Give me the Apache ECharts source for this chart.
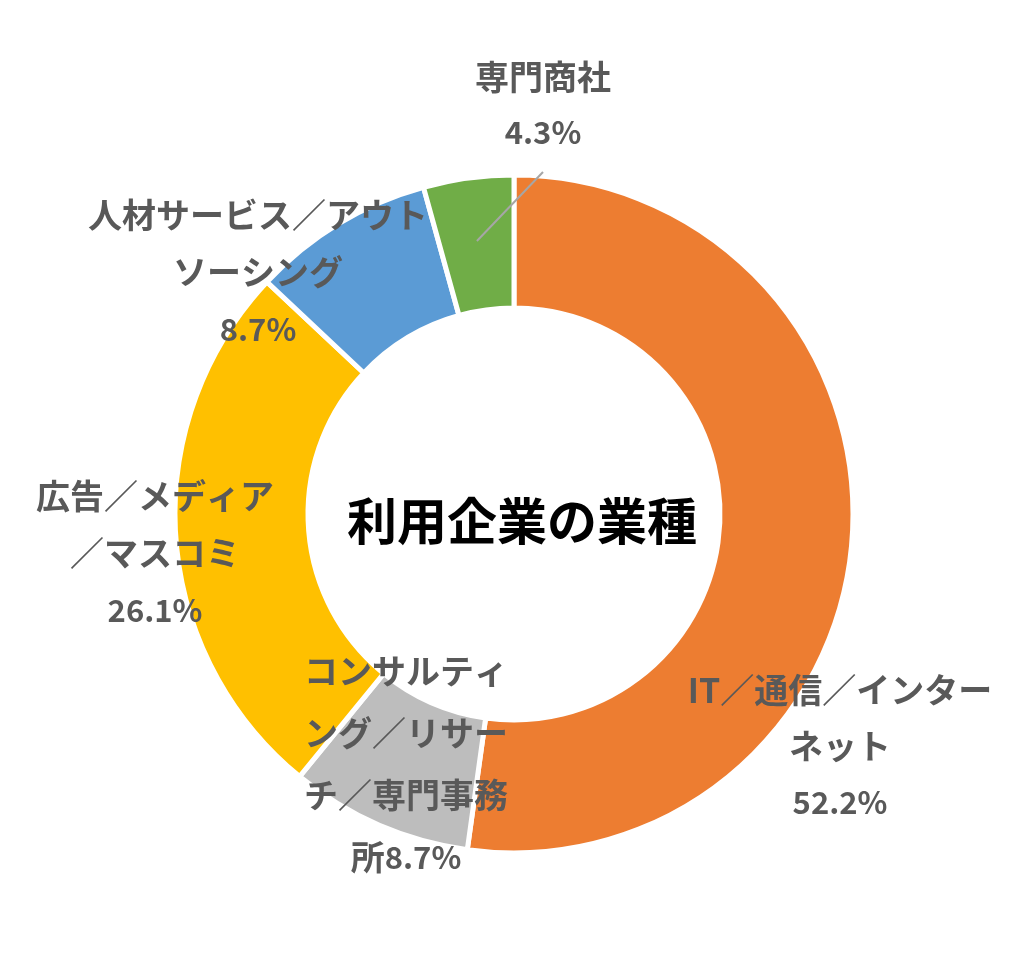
<!DOCTYPE html>
<html>
<head>
<meta charset="utf-8">
<script src="https://cdn.jsdelivr.net/npm/echarts@6/dist/echarts.min.js"></script>
<style>html,body{margin:0;padding:0;background:#fff;}#c{width:1024px;height:953px;}</style>
</head>
<body>
<div id="c"></div>
<script>
const categories = ['IT／通信／インターネット', 'コンサルティング／リサーチ／専門事務所', '広告／メディア／マスコミ', '人材サービス／アウトソーシング', '専門商社'];
const values = [52.2, 8.7, 26.1, 8.7, 4.3];
const wrappedNames = ['IT／通信／インター\nネット', 'コンサルティ\nング／リサー\nチ／専門事務\n所', '広告／メディア\n／マスコミ', '人材サービス／アウト\nソーシング', '専門商社'];
const percentOnNewLine = [true, false, true, true, true];
const centerTitle = '利用企業の業種';

const colors = ['#ED7D31', '#BDBDBD', '#FFC000', '#5B9BD5', '#70AD47'];
const labelPos = [
  {x: 840, y: 746, lh: 56},
  {x: 406, y: 764, lh: 62},
  {x: 155, y: 553, lh: 57},
  {x: 258, y: 272, lh: 57},
  {x: 543, y: 105, lh: 55}
];
const CX = 514, CY = 514, R0 = 206, R1 = 339;
const FONT = '"Noto Sans CJK JP", sans-serif';

// leader line for the last (smallest) slice, from the middle of its arc
const total = values.reduce((a, b) => a + b, 0);
const before = values.slice(0, 4).reduce((a, b) => a + b, 0);
const midAng = (before + values[4] / 2) / total * 2 * Math.PI;
const rMid = (R0 + R1) / 2 + 3;
const lineStart = [CX + rMid * Math.sin(midAng), CY - rMid * Math.cos(midAng)];
const lineEnd = [543, 172];

const chart = echarts.init(document.getElementById('c'));
chart.setOption({
  backgroundColor: '#ffffff',
  animation: false,
  graphic: [{
    type: 'text',
    style: {
      text: centerTitle,
      x: 522, y: 521,
      align: 'center', verticalAlign: 'middle',
      fontSize: 50, fontWeight: 'bold',
      fontFamily: FONT,
      fill: '#000000'
    }
  }, {
    type: 'line',
    z: 10,
    shape: {x1: lineStart[0], y1: lineStart[1], x2: lineEnd[0], y2: lineEnd[1]},
    style: {stroke: '#A6A6A6', lineWidth: 2}
  }],
  series: [{
    type: 'pie',
    center: [CX, CY],
    radius: [R0, R1],
    startAngle: 90,
    clockwise: true,
    avoidLabelOverlap: false,
    itemStyle: {borderColor: '#ffffff', borderWidth: 5},
    label: {
      show: true,
      position: 'outside',
      color: '#595959',
      fontWeight: 'bold',
      fontFamily: FONT,
      align: 'center',
      formatter: p => '{n|' + wrappedNames[p.dataIndex] + '}' + (percentOnNewLine[p.dataIndex] ? '\n' : '') + '{p|' + p.value.toFixed(1) + '%}'
    },
    labelLine: {show: false},
    labelLayout: p => ({
      x: labelPos[p.dataIndex].x,
      y: labelPos[p.dataIndex].y,
      align: 'center',
      verticalAlign: 'middle'
    }),
    data: categories.map((c, i) => ({
      name: c,
      value: values[i],
      itemStyle: {color: colors[i]},
      label: {
        lineHeight: labelPos[i].lh,
        rich: {
          n: {fontSize: 34, lineHeight: labelPos[i].lh, color: '#595959', fontWeight: 'bold', fontFamily: FONT},
          p: {fontSize: 31, lineHeight: labelPos[i].lh, color: '#595959', fontWeight: 'bold', fontFamily: FONT}
        }
      }
    }))
  }]
});
</script>
</body>
</html>
